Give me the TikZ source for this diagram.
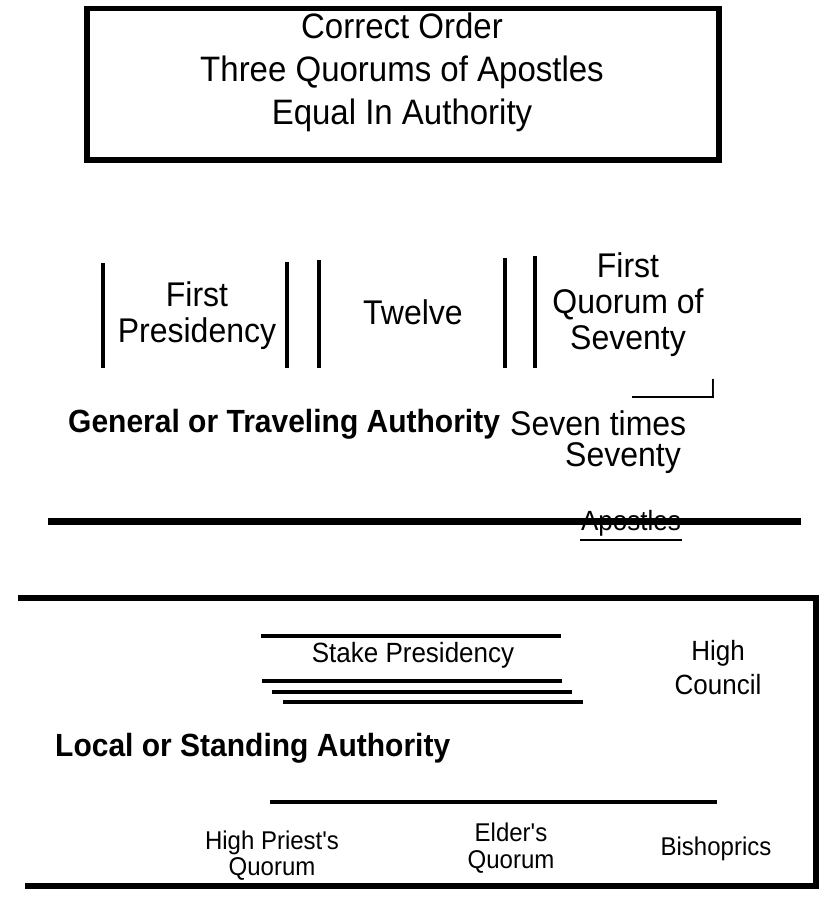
\documentclass[tikz,border=0pt]{standalone}
\usepackage{fontspec}
\setmainfont{Liberation Sans}
\newcommand{\vs}[1]{\scalebox{1}[1.07]{#1}}
\begin{document}
\begin{tikzpicture}[x=1pt,y=-1pt,
  lbl/.style={inner sep=0pt,align=center,anchor=center},
  big/.style={lbl,font=\fontsize{32}{36}\selectfont},
  bigb/.style={lbl,font=\fontsize{30}{34}\selectfont\bfseries},
  mid/.style={lbl,font=\fontsize{26}{34}\selectfont},
  small/.style={lbl,font=\fontsize{24}{27}\selectfont},
  bar/.style={line width=4pt},
  rule/.style={line width=4pt}]
\useasboundingbox (0,0) rectangle (823,913);
% top box
\draw[line width=6pt] (87,160) -- (87,9) (719,9) -- (719,160);
\draw[line width=5pt] (84,8) -- (722,8);
\draw[line width=6pt] (84,160) -- (722,160);
\node[lbl,font=\fontsize{33}{43}\selectfont] (title) at (402,72) {\vs{Correct Order}\\\vs{Three Quorums of Apostles}\\\vs{Equal In Authority}};
% bars
\draw[bar] (103,263) -- (103,368);
\draw[bar] (287,262) -- (287,368);
\draw[bar] (319,260) -- (319,368);
\draw[bar] (505,258) -- (505,368);
\draw[bar] (535,256) -- (535,368);
\node[big] (fp) at (197,316) {\vs{First}\\\vs{Presidency}};
\node[big] (tw) at (413,312) {\vs{Twelve}};
\node[big] (fq) at (628,305) {\vs{First}\\\vs{Quorum of}\\\vs{Seventy}};
% small mark
\draw[line width=1.5pt] (632,397) -- (714,397);
\node[lbl,font=\fontsize{22}{22}\selectfont,anchor=base] (mk) at (713,396) {\vs{l}};
% general authority
\node[bigb,anchor=west] (ga) at (68,424) {\vs{General or Traveling Authority}};
\node[big,anchor=west] (st) at (510,423) {\vs{Seven times}};
\node[big] (sv) at (623,458) {\vs{Seventy}};
\draw[line width=7pt] (48,521) -- (801,521);
\node[lbl,font=\fontsize{26}{30}\selectfont] (ap) at (631,523) {\vs{Apostles}};
\draw[line width=2pt] (580,540) -- (682,540);
% lower box
\draw[line width=6pt] (18,598) -- (818,598);
\draw[line width=6pt] (816,595) -- (816,889);
\draw[line width=6pt] (25,886) -- (819,886);
\draw[rule] (261,636) -- (561,636);
\node[mid] (sp) at (413,655) {\vs{Stake Presidency}};
\draw[rule] (262,681) -- (562,681);
\draw[rule] (272,692) -- (572,692);
\draw[rule] (283,702) -- (583,702);
\node[mid] (hc) at (718,668) {\vs{High}\\\vs{Council}};
\node[bigb,anchor=west] (la) at (55,748) {\vs{Local or Standing Authority}};
\draw[rule] (270,802) -- (717,802);
\node[small,font=\fontsize{24}{26}\selectfont] (hp) at (272,856) {\vs{High Priest\textquotesingle s}\\\vs{Quorum}};
\node[small] (eq) at (511,848) {\vs{Elder\textquotesingle s}\\\vs{Quorum}};
\node[small] (bi) at (716,849) {\vs{Bishoprics}};
\end{tikzpicture}
\end{document}
